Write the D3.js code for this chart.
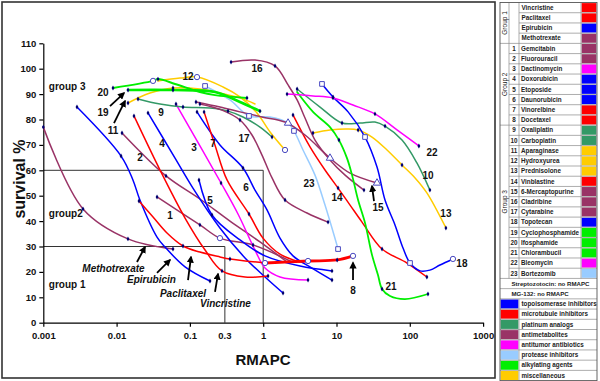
<!DOCTYPE html>
<html><head><meta charset="utf-8">
<script src="https://cdn.jsdelivr.net/npm/d3@7"></script>
<style>body{margin:0;background:#fff}svg{display:block;font-family:"Liberation Sans",Arial,sans-serif}</style>
</head><body><svg id="c" width="600" height="381"></svg>
<script>
// ---------- data ----------
const xTicks = [0.001, 0.01, 0.1, 1, 10, 100, 1000];
const xTickLabels = ["0.001", "0.01", "0.1", "1", "10", "100", "1000"];
const yTicks = [0, 10, 20, 30, 40, 50, 60, 70, 80, 90, 100, 110];

// [RMAPC, survival %]
const vincristine = [[0.01726,81.4],[0.0391,60.1],[0.0858,41.2],[0.161,28.6],[0.274,20.4],[0.565,18.0],[1.163,18.4]];
const paclitaxel = [[0.0202,47.9],[0.0314,41.6],[0.0487,35.3],[0.0805,30.2],[0.137,27.8],[0.257,25.9],[0.352,25.1],[1.059,23.5]];
const epirubicin = [[0.00288,84.9],[0.0115,65.6],[0.0167,56.2],[0.0208,48.3],[0.0356,33.7],[0.0457,29.8],[0.0858,22.0],[0.188,16.4]];
const methotrexate = [[0.001,77.0],[0.00348,44.8],[0.0143,33.0],[0.0588,29.0]];
const gemcitabin = [[0.0356,49.5],[0.137,38.5],[0.257,33.3],[0.726,30.6],[2.475,23.9]];
const fluorouracil = [[0.01185,74.7],[0.0472,57.8],[0.137,48.7],[0.352,40.0],[0.904,31.8],[2.115,23.9]];
const dactinomycin = [[0.0646,86.1],[0.266,55.0],[0.453,42.8],[0.773,28.6],[1.059,21.5],[1.695,18.0],[4.09,16.8]];
const doxorubicin = [[0.02681,82.6],[0.0627,64.8],[0.110,53.0],[0.257,37.3],[0.565,25.5],[1.059,18.0],[1.864,11.7]];
const etoposide = [[0.133,56.2],[0.200,42.4],[0.482,32.6],[1.059,26.3],[3.18,22.3],[8.68,20.4]];
const daunorubicin = [[0.125,83.0],[0.257,70.0],[0.530,60.9],[0.773,52.2],[1.127,44.4],[1.695,33.3],[2.55,26.3],[4.63,21.5],[8.68,16.8]];
const vinorelbine = [[0.156,83.0],[0.220,69.9],[0.321,56.2],[0.640,42.8],[0.993,33.3],[1.695,27.0],[3.18,23.9]];
const docetaxel = [[1.059,23.5],[4.09,24.3],[10.2,24.7],[16.8,26.3]];
const oxaliplatin = [[0.01959,88.1],[0.0391,86.1],[0.0805,84.9],[0.188,84.5],[0.331,83.3],[0.530,81.0],[0.904,77.0],[1.320,73.1]];
const carboplatin = [[2.90,92.0],[5.96,84.9],[11.9,78.6],[20.9,78.6],[33.5,79.0],[45.9,77.4],[78.3,71.9],[125,62.9],[188,52.2]];
const asparaginase = [[0.01431,86.5],[0.02855,90.4],[0.0588,92.4],[0.137,92.0],[0.257,90.4],[0.482,88.5],[0.773,86.1]];
const hydroxyurea = [[0.0367,95.2],[0.0733,96.3],[0.125,96.7],[0.283,92.8],[0.482,88.9],[0.823,82.6],[1.240,75.1],[1.985,68.0]];
const prednisolone = [[4.78,74.7],[8.15,75.9],[13.9,76.3],[19.7,75.9],[30.5,73.1],[48.9,68.0],[78.3,62.1],[118,57.0],[171,51.1],[311,37.3]];
const vinblastine = [[2.55,81.8],[4.35,69.2],[6.97,60.1],[10.5,53.0],[15.3,46.3],[22.3,39.6],[41.8,29.0],[91.6,23.5],[171,18.0]];
const mercaptopurine = [[0.121,86.9],[0.257,84.9],[0.482,83.0],[0.963,81.0],[1.985,79.0],[3.72,73.9],[8.15,64.8],[15.3,58.9],[35.7,55.0]];
const cladribine = [[0.364,102.6],[0.773,103.4],[1.449,101.1],[2.183,93.6],[2.90,87.7],[3.72,80.6],[5.09,71.9],[8.15,64.1],[13.1,58.1],[23.7,52.2]];
const cytarabine = [[0.137,86.1],[0.274,83.7],[0.482,79.8],[0.703,73.9],[0.963,66.0],[1.320,57.0],[1.985,48.3],[3.96,43.2],[7.66,39.6]];
const topotecan = [[6.34,94.0],[8.96,88.9],[14.4,83.0],[24.5,73.1],[35.7,61.3],[45.9,48.3],[62.8,38.5],[80.8,29.4],[100.7,23.5],[138,20.4],[188,20.7],[258,22.7],[388,25.1]];
const cyclophosphamide = [[0.01431,91.6],[0.0588,91.6],[0.220,90.8],[0.482,86.9],[0.904,83.3]];
const ifosphamide = [[0.00893,92.4],[0.0314,95.2],[0.0367,95.9],[0.0627,94.0],[0.137,90.8],[0.220,89.6],[0.601,88.5]];
const chlorambucil = [[2.90,90.8],[4.78,83.0],[8.15,77.0],[10.8,71.9],[13.9,64.8],[16.3,58.1],[19.7,48.3],[24.5,39.3],[30.5,26.7],[36.8,18.8],[41.8,13.3],[53.7,10.5],[85.9,9.3],[177,11.3]];
const bleomycin = [[2.115,90.0],[4.78,89.3],[8.96,88.5],[16.8,85.7],[33.5,82.2],[66.9,75.9],[133,69.6]];
const bortezomib = [[0.161,93.2],[0.352,87.7],[0.640,81.4],[1.240,81.0],[2.183,78.6],[2.63,75.5],[3.49,68.0],[5.09,58.1],[6.97,46.3],[10.5,29.0]];

// table
const group1Drugs = ["Vincristine","Paclitaxel","Epirubicin","Methotrexate"];
const group1Classes = ["micro","micro","topo","antimet"];
const numberedDrugs = ["Gemcitabin","Fluorouracil","Dactinomycin","Doxorubicin","Etoposide","Daunorubicin","Vinorelbine","Docetaxel","Oxaliplatin","Carboplatin","Aparaginase","Hydroxyurea","Prednisolone","Vinblastine","6-Mercaptopurine","Cladribine","Cytarabine","Topotecan","Cyclophosphamide","Ifosphamide","Chlorambucil","Bleomycin","Bortezomib"];
const numberedClasses = ["antimet","antimet","antitumor","topo","topo","topo","micro","micro","platinum","platinum","misc","misc","misc","micro","antimet","antimet","antimet","topo","alkyl","alkyl","alkyl","antitumor","protease"];
const noRmapc = ["Streptozotocin: no RMAPC","MG-132: no RMAPC"];
const classKeys = ["topo","micro","platinum","antimet","antitumor","protease","alkyl","misc"];
const classNames = ["topoisomerase inhibitors","microtubule inhibitors","platinum analogs","antimetabolites","antitumor antibiotics","protease inhibitors","alkylating agents","miscellaneous"];

// annotations (data coords)
const numberLabels = [["20",0.00652,90.8],["19",0.00652,82.6],["11",0.00893,75.9],["12",0.0942,97.1],["16",0.823,100.3],["9",0.0403,82.6],["2",0.0208,65.2],["4",0.0416,70.4],["3",0.114,69.2],["7",0.207,70.4],["17",0.547,72.7],["5",0.188,48.3],["6",0.583,53.4],["1",0.0535,42.4],["23",4.22,55.0],["14",10.2,49.5],["15",36.8,45.5],["22",201,67.2],["10",177,57.8],["13",311,43.2],["18",514,23.5],["21",55.3,14.1],["8",16.8,12.9]];
const arrows = [[0.00813,85.3,0.01262,90.4],[0.00922,78.6,0.01303,87.3],[0.01897,23.9,0.02441,29.8],[0.0356,19.6,0.0535,24.7],[0.0942,16.8,0.1035,25.9],[0.220,12.1,0.242,19.2],[32.5,47.9,30.5,53.8],[16.8,16.8,16.8,23.6]];
const italicLabels = [["Methotrexate",0.00907,20.0],["Epirubicin",0.0299,15.6],["Paclitaxel",0.0805,10.2],["Vincristine",0.306,6.3]];
const groupLabels = [["group 3",0.00119,91.6],["group2",0.00119,41.7],["group 1",0.00119,13.7]];

// ---------- styles ----------
const classColor = {topo:"#0000ff",micro:"#ff0000",platinum:"#339966",antimet:"#993366",antitumor:"#ff00ff",protease:"#99ccff",alkyl:"#00ee00",misc:"#ffcc00"};

const series = [
  {pts:methotrexate, cls:"antimet", dots:[0,1,2,3]},
  {pts:epirubicin, cls:"topo", dots:[0,1,7]},
  {pts:gemcitabin, cls:"antimet", dots:[0,1,3], open:[[2,"o"]]},
  {pts:fluorouracil, cls:"antimet", dots:[0,1]},
  {pts:dactinomycin, cls:"antitumor", dots:[0,1,6]},
  {pts:doxorubicin, cls:"topo", dots:[0,6]},
  {pts:etoposide, cls:"topo", dots:[0,1,5]},
  {pts:daunorubicin, cls:"topo", dots:[0,2,8]},
  {pts:vinorelbine, cls:"micro", dots:[0,3]},
  {pts:vincristine, cls:"micro", dots:[0,4,6]},
  {pts:paclitaxel, cls:"micro", dots:[0,3,6], open:[[7,"o"]]},
  {pts:docetaxel, cls:"micro", dots:[2], open:[[1,"o"],[3,"o"]], w:2.8},
  {pts:oxaliplatin, cls:"platinum", dots:[0,2,4,7]},
  {pts:carboplatin, cls:"platinum", dots:[0,2,5,8]},
  {pts:bortezomib, cls:"protease", open:[[0,"s"],[2,"s"],[4,"t"],[5,"s"],[9,"s"]]},
  {pts:asparaginase, cls:"misc", dots:[0,2]},
  {pts:hydroxyurea, cls:"misc", open:[[2,"o"],[7,"o"]]},
  {pts:prednisolone, cls:"misc", dots:[0,3,6,9]},
  {pts:vinblastine, cls:"micro", dots:[0,3,6,8]},
  {pts:mercaptopurine, cls:"antimet", dots:[0], open:[[6,"t"],[8,"t"]]},
  {pts:cladribine, cls:"antimet", dots:[0,2,9]},
  {pts:cytarabine, cls:"antimet", dots:[0,2,6,8]},
  {pts:topotecan, cls:"topo", dots:[1], open:[[0,"s"],[3,"s"],[8,"s"],[12,"o"]]},
  {pts:cyclophosphamide, cls:"alkyl", dots:[0,1,4], w:2.6},
  {pts:ifosphamide, cls:"alkyl", dots:[0,2,6], open:[[1,"o"]], w:2},
  {pts:chlorambucil, cls:"alkyl", dots:[3,10,13], w:1.8},
  {pts:bleomycin, cls:"antitumor", dots:[0,2,4,6]}
];

// ---------- chart ----------
const svg = d3.select("#c");
const x = d3.scaleLog().domain([0.001, 1000]).range([43.3, 483.1]);
const y = d3.scaleLinear().domain([0, 110]).range([322.7, 43.3]);

svg.append("rect").attr("x",2).attr("y",2).attr("width",493).attr("height",376)
  .attr("fill","none").attr("stroke","#333").attr("stroke-width",1.6);

const defs = svg.append("defs");
defs.append("marker").attr("id","ah").attr("viewBox","0 0 10 10").attr("refX",8).attr("refY",5)
  .attr("markerWidth",4).attr("markerHeight",4).attr("orient","auto")
  .append("path").attr("d","M0,0L10,5L0,10z").attr("fill","#000");

// group boxes
const boxG = svg.append("g").attr("fill","none").attr("stroke","#333").attr("stroke-width",1);
boxG.append("path").attr("d",`M${x(0.001)},${y(60)}H${x(1)}V${y(0)}`);
boxG.append("path").attr("d",`M${x(0.001)},${y(30)}H${x(0.3)}V${y(0)}`);

// axes
const xg = svg.append("g").attr("transform",`translate(0,${y(0)})`)
  .call(d3.axisBottom(x).tickValues(xTicks).tickFormat((d,i)=>xTickLabels[i]).tickSize(4).tickSizeOuter(0).tickPadding(6));
const yg = svg.append("g").attr("transform",`translate(${x(0.001)},0)`)
  .call(d3.axisLeft(y).tickValues(yTicks).tickSize(4).tickSizeOuter(0).tickPadding(3));
[xg,yg].forEach(g=>{
  g.selectAll("path,line").attr("stroke","#000").attr("stroke-width",1.2);
  g.selectAll("text").attr("font-family",'"Liberation Sans",Arial,sans-serif').attr("font-size",9.5).attr("font-weight","bold").attr("fill","#111");
});
svg.append("text").attr("x",x(0.3)).attr("y",y(0)+16.5).attr("text-anchor","middle")
  .attr("font-size",9.5).attr("font-weight","bold").attr("fill","#111").text("0.3");

svg.append("text").attr("transform",`translate(25,179) rotate(-90)`).attr("text-anchor","middle")
  .attr("font-size",16).attr("font-weight","bold").attr("fill","#111").text("survival %");
svg.append("text").attr("x",263).attr("y",365).attr("text-anchor","middle")
  .attr("font-size",15).attr("font-weight","bold").attr("fill","#111").text("RMAPC");

// curves
const line = d3.line().x(d=>x(d[0])).y(d=>y(d[1])).curve(d3.curveCatmullRom.alpha(0.5));
const curveG = svg.append("g").attr("fill","none");
series.forEach(s=>{
  curveG.append("path").attr("d",line(s.pts)).attr("stroke",classColor[s.cls])
    .attr("stroke-width",s.w||1.5).attr("stroke-linejoin","round").attr("stroke-linecap","round");
});
// markers
const markG = svg.append("g");
const sym = {o:d3.symbolCircle, s:d3.symbolSquare, t:d3.symbolTriangle};
series.forEach(s=>{
  (s.dots||[]).forEach(i=>{
    const p = s.pts[i];
    markG.append("path").attr("d",d3.symbol(d3.symbolDiamond,7)())
      .attr("transform",`translate(${x(p[0])},${y(p[1])})`).attr("fill","#000070");
  });
  (s.open||[]).forEach(([i,t])=>{
    const p = s.pts[i];
    markG.append("path").attr("d",d3.symbol(sym[t], t==="t"?24:22)())
      .attr("transform",`translate(${x(p[0])},${y(p[1])})`)
      .attr("fill","#fff").attr("stroke","#4848c0").attr("stroke-width",1);
  });
});

// annotations
const annG = svg.append("g").attr("fill","#111").attr("font-weight","bold");
numberLabels.forEach(([t,a,b])=>{
  annG.append("text").attr("x",x(a)).attr("y",y(b)).attr("dy","0.36em").attr("text-anchor","middle")
    .attr("font-size",10).text(t);
});
groupLabels.forEach(([t,a,b])=>{
  annG.append("text").attr("x",x(a)).attr("y",y(b)).attr("font-size",10).text(t);
});
italicLabels.forEach(([t,a,b])=>{
  annG.append("text").attr("x",x(a)).attr("y",y(b)).attr("text-anchor","middle")
    .attr("font-size",10).attr("font-style","italic").text(t);
});
arrows.forEach(([a,b,c,d])=>{
  svg.append("line").attr("x1",x(a)).attr("y1",y(b)).attr("x2",x(c)).attr("y2",y(d))
    .attr("stroke","#000").attr("stroke-width",1.8).attr("marker-end","url(#ah)");
});

// ---------- legend table ----------
const T = svg.append("g");
const c0=500, c1=509, c2=519, c3=581, c4=597;
const nRows = group1Drugs.length + numberedDrugs.length + noRmapc.length + classNames.length;
const row = d3.scaleBand().domain(d3.range(nRows)).range([2.5, 380.6]);
const bw = row.bandwidth();
const lineC = "#8a8a8a";
const txt = (xx, i, t, anchor, fs) => T.append("text").attr("x",xx).attr("y",row(i)+bw/2+2.2)
  .attr("font-size",fs||6.3).attr("font-weight","bold").attr("fill","#222")
  .attr("text-anchor",anchor||"start").text(t);

const g1 = group1Drugs.length, g2end = g1 + 8, g3end = g1 + numberedDrugs.length;
const extraStart = g3end, clsStart = g3end + noRmapc.length;

group1Drugs.forEach((d,i)=>{
  T.append("rect").attr("x",c3+0.6).attr("y",row(i)+0.6).attr("width",c4-c3-1.2).attr("height",bw-1.2).attr("fill",classColor[group1Classes[i]]);
  txt(c2+2.5, i, d);
});
numberedDrugs.forEach((d,k)=>{
  const i = g1 + k;
  T.append("rect").attr("x",c3+0.6).attr("y",row(i)+0.6).attr("width",c4-c3-1.2).attr("height",bw-1.2).attr("fill",classColor[numberedClasses[k]]);
  txt(c2+2, i, d);
  txt((c1+c2)/2, i, String(k+1), "middle");
});
noRmapc.forEach((d,k)=> txt(c1+2.5, extraStart+k, d, "start", 6.1));
classNames.forEach((d,k)=>{
  const i = clsStart + k;
  T.append("rect").attr("x",c0+0.6).attr("y",row(i)+0.6).attr("width",c2-c0-1.2).attr("height",bw-1.2).attr("fill",classColor[classKeys[k]]);
  txt(c2+2.5, i, d);
});

const L = T.append("g").attr("stroke",lineC).attr("stroke-width",0.7);
for(let i=1;i<nRows;i++){
  const yy = row(i);
  let xa;
  if(i===g1 || i===g2end || i===g3end || i>=extraStart) xa = c0;
  else if(i<g1) xa = c2; else xa = c1;
  L.append("line").attr("x1",xa).attr("x2",c4).attr("y1",yy).attr("y2",yy);
}
[c1,c2,c3].forEach(cx=>L.append("line").attr("x1",cx).attr("x2",cx).attr("y1",row(0)).attr("y2",row(extraStart)));
L.append("line").attr("x1",c2).attr("x2",c2).attr("y1",row(clsStart)).attr("y2",row(nRows-1)+bw);
T.append("rect").attr("x",c0).attr("y",row(0)).attr("width",c4-c0).attr("height",row(nRows-1)+bw-row(0))
  .attr("fill","none").attr("stroke","#555").attr("stroke-width",0.9);

const grp = [["Group 1",0,g1],["Group 2",g1,g2end],["Group 3",g2end,g3end]];
grp.forEach(([t,a,b])=>{
  const cy = (row(a)+row(b-1)+bw)/2;
  T.append("text").attr("transform",`translate(${(c0+c1)/2+2.3},${cy}) rotate(-90)`)
    .attr("text-anchor","middle").attr("font-size",6.5).attr("fill","#222").text(t);
});
</script></body></html>
